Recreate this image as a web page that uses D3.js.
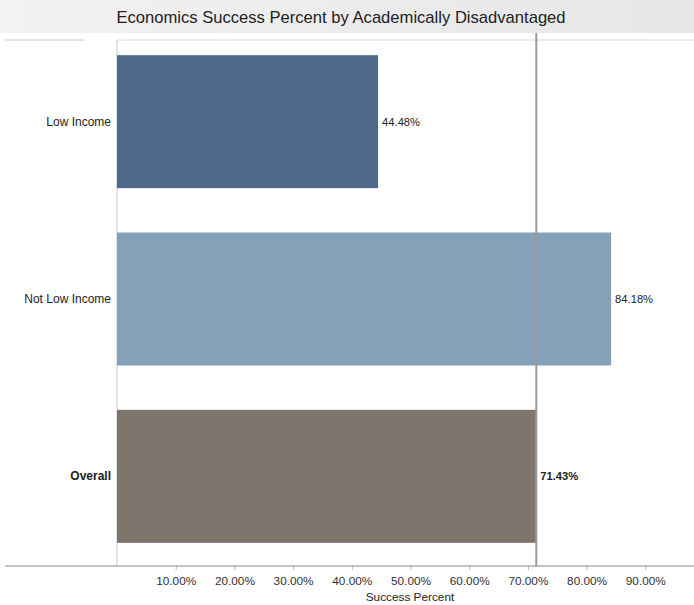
<!DOCTYPE html>
<html>
<head>
<meta charset="utf-8">
<script src="https://cdn.jsdelivr.net/npm/d3@7"></script>
<style>
  body { margin: 0; background: #fff; }
  svg { display: block; font-family: "Liberation Sans", Arial, sans-serif; }
</style>
</head>
<body>
<svg id="chart" width="694" height="605"></svg>
<script>
// Success percent per income group
const categories = ["Low Income", "Not Low Income", "Overall"];
const successPct = [44.48, 84.18, 71.43];
const barColors = ["#4f6a88", "#85a0b9", "#7e756d"];
const tickValues = [10, 20, 30, 40, 50, 60, 70, 80, 90];
const referenceValue = 71.43;

const svg = d3.select("#chart");
const W = 694, H = 605;
const plot = { left: 117, right: 694, top: 33, bottom: 565 };

// Title banner
const grad = svg.append("defs").append("linearGradient")
  .attr("id", "banner").attr("x1", 0).attr("x2", 1).attr("y1", 0).attr("y2", 0);
grad.append("stop").attr("offset", "0%").attr("stop-color", "#f2f2f2");
grad.append("stop").attr("offset", "50%").attr("stop-color", "#ececec");
grad.append("stop").attr("offset", "100%").attr("stop-color", "#e6e6e6");
svg.append("rect").attr("x", 0).attr("y", 0).attr("width", W).attr("height", 33)
  .attr("fill", "url(#banner)");
svg.append("text").attr("x", 341).attr("y", 23)
  .attr("text-anchor", "middle").attr("font-size", 16.6).attr("fill", "#222")
  .text("Economics Success Percent by Academically Disadvantaged");

const x = d3.scaleLinear().domain([0, 98.3]).range([plot.left, plot.right]);
const y = d3.scaleBand().domain(categories).range([plot.top, plot.bottom])
  .paddingInner(0.25).paddingOuter(0.125);

// Panel frame
svg.append("line").attr("x1", 5).attr("x2", 85).attr("y1", 40).attr("y2", 40)
  .attr("stroke", "#c8c8c8");
svg.append("line").attr("x1", plot.left).attr("x2", W).attr("y1", 40).attr("y2", 40)
  .attr("stroke", "#d8d8d8");
svg.append("line").attr("x1", plot.left).attr("x2", plot.left).attr("y1", 40).attr("y2", 566)
  .attr("stroke", "#c8c8c8");

// Bars
svg.append("g").selectAll("rect").data(categories).join("rect")
  .attr("x", x(0))
  .attr("y", d => y(d))
  .attr("width", (d, i) => x(successPct[i]) - x(0))
  .attr("height", y.bandwidth())
  .attr("fill", (d, i) => barColors[i]);

// Reference line at the overall rate
svg.append("line")
  .attr("x1", x(referenceValue)).attr("x2", x(referenceValue))
  .attr("y1", 33).attr("y2", 566)
  .attr("stroke", "#9a9a9a").attr("stroke-width", 2);

// Category labels
svg.append("g").selectAll("text").data(categories).join("text")
  .attr("x", 111)
  .attr("y", d => y(d) + y.bandwidth() / 2 + 4)
  .attr("text-anchor", "end")
  .attr("font-size", 12)
  .attr("font-weight", d => d === "Overall" ? "bold" : "normal")
  .attr("fill", "#222")
  .text(d => d);

// Value labels
svg.append("g").selectAll("text").data(categories).join("text")
  .attr("x", (d, i) => x(successPct[i]) + 4)
  .attr("y", d => y(d) + y.bandwidth() / 2 + 4)
  .attr("font-size", 11.2)
  .attr("font-weight", d => d === "Overall" ? "bold" : "normal")
  .attr("fill", "#222")
  .text((d, i) => successPct[i].toFixed(2) + "%");

// X axis
const axis = d3.axisBottom(x).tickValues(tickValues)
  .tickFormat(d => d.toFixed(2) + "%").tickSize(4).tickPadding(7);
const gx = svg.append("g").attr("transform", "translate(0,566)").call(axis);
gx.select(".domain").remove();
gx.selectAll(".tick line").attr("stroke", "#bbb");
gx.selectAll(".tick text").attr("font-size", 11.8).attr("fill", "#333")
  .attr("font-family", "\"Liberation Sans\", Arial, sans-serif");
svg.append("line").attr("x1", 5).attr("x2", W).attr("y1", 566).attr("y2", 566)
  .attr("stroke", "#888");

svg.append("text").attr("x", 410).attr("y", 601)
  .attr("text-anchor", "middle").attr("font-size", 11.8).attr("fill", "#222")
  .text("Success Percent");
</script>
</body>
</html>
